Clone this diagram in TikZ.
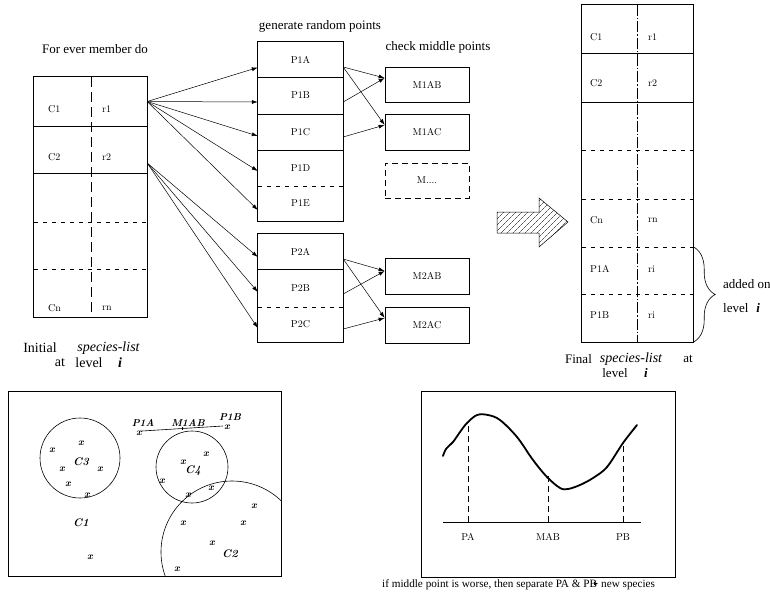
\documentclass[tikz,border=0pt]{standalone}
\usepackage{fontspec}
\newfontfamily\tms{Liberation Serif}
\usetikzlibrary{arrows.meta,patterns,patterns.meta,decorations.pathreplacing,calc}
\begin{document}
\begin{tikzpicture}[x=1pt,y=-1pt,
  lbl/.style={font=\fontsize{10}{12}\selectfont, inner sep=0pt},
  ttl/.style={font=\tms\fontsize{13}{15}\selectfont, inner sep=0pt},
  ttlb/.style={font=\tms\fontsize{14}{16}\selectfont, inner sep=0pt},
  ttlc/.style={font=\tms\fontsize{11.2}{13}\selectfont, inner sep=0pt},
  cell/.style={inner sep=0pt},
  arr/.style={-{Latex[length=6pt,width=4pt]}, line width=0.5pt},
  bx/.style={line width=0.7pt},
  dsh/.style={dash pattern=on 4pt off 5pt, line width=0.6pt},
  vdsh/.style={dash pattern=on 10pt off 5pt, line width=0.6pt},
  vdsh2/.style={dash pattern=on 11pt off 2pt on 1.5pt off 2pt, line width=0.6pt},
  xm/.style={font=\bfseries\itshape\fontsize{10}{11}\selectfont, inner sep=0pt},
  xl/.style={font=\bfseries\itshape\fontsize{11}{12}\selectfont, inner sep=0pt},
]
\useasboundingbox (0,0) rectangle (770,602);

% ---------- titles
\node[ttl] (t1) at (95,49) {For ever member do};
\node[ttl] (t2) at (320,26) {generate random points};
\node[ttl] (t3) at (438,47) {check middle points};

% ---------- left list
\node[cell, minimum width=113pt, minimum height=49pt] (l1) at (90.5,101.5) {};
\node[cell, minimum width=113pt, minimum height=47pt] (l2) at (90.5,149.5) {};
\node[cell, minimum width=113pt, minimum height=49pt] (l3) at (90.5,197.5) {};
\node[cell, minimum width=113pt, minimum height=47pt] (l4) at (90.5,245.5) {};
\node[cell, minimum width=113pt, minimum height=48pt] (l5) at (90.5,293) {};
\draw[bx] (l1.north west) rectangle (l5.south east);
\draw[bx] (l1.south west) -- (l1.south east);
\draw[bx] (l2.south west) -- (l2.south east);
\draw[dsh] (l3.south west) -- (l3.south east);
\draw[dsh] (l4.south west) -- (l4.south east);
\draw[vdsh] (91,77) -- (91,317);
\node[lbl, anchor=west] (lc1) at (48,109) {C1};
\node[lbl, anchor=west] (lr1) at (102,109) {r1};
\node[lbl, anchor=west] (lc2) at (48,157) {C2};
\node[lbl, anchor=west] (lr2) at (102,157) {r2};
\node[lbl, anchor=west] (lcn) at (48,308) {Cn};
\node[lbl, anchor=west] (lrn) at (102,308) {rn};
\node[ttlb] (i1) at (40,348) {Initial};
\node[ttlb] (i2) at (108.5,348) {\itshape species-list};
\node[ttlb] (i3) at (60,363) {at};
\node[ttlb] (i4) at (89,363) {level};
\node[ttlb] (i5) at (120,363) {\bfseries\itshape i};

% ---------- P1 boxes
\node[lbl, minimum width=85pt, minimum height=35pt] (p1a) at (300.5,59.5) {P1A};
\node[lbl, minimum width=85pt, minimum height=37pt] (p1b) at (300.5,95.5) {P1B};
\node[lbl, minimum width=85pt, minimum height=36pt] (p1c) at (300.5,132) {P1C};
\node[lbl, minimum width=85pt, minimum height=36pt] (p1d) at (300.5,168) {P1D};
\node[lbl, minimum width=85pt, minimum height=35pt] (p1e) at (300.5,203.5) {P1E};
\draw[bx] (p1a.north west) rectangle (p1e.south east);
\draw[bx] (p1a.south west) -- (p1a.south east);
\draw[bx] (p1b.south west) -- (p1b.south east);
\draw[bx] (p1c.south west) -- (p1c.south east);
\draw[dsh] (p1d.south west) -- (p1d.south east);

% ---------- P2 boxes
\node[lbl, minimum width=85pt, minimum height=35pt] (p2a) at (300.5,251.5) {P2A};
\node[lbl, minimum width=85pt, minimum height=38pt] (p2b) at (300.5,288) {P2B};
\node[lbl, minimum width=85pt, minimum height=35pt] (p2c) at (300.5,324.5) {P2C};
\draw[bx] (p2a.north west) rectangle (p2c.south east);
\draw[bx] (p2a.south west) -- (p2a.south east);
\draw[dsh] (p2b.south west) -- (p2b.south east);

% ---------- M boxes
\node[lbl, bx, draw, minimum width=84pt, minimum height=35pt] (m1ab) at (427,84.5) {M1AB};
\node[lbl, bx, draw, minimum width=84pt, minimum height=36pt] (m1ac) at (427,132) {M1AC};
\node[lbl, draw, dash pattern=on 6pt off 4pt, line width=0.7pt, minimum width=84pt, minimum height=35pt] (mdots) at (427,180.5) {M....};
\node[lbl, bx, draw, minimum width=84pt, minimum height=36pt] (m2ab) at (427,276) {M2AB};
\node[lbl, bx, draw, minimum width=84pt, minimum height=36pt] (m2ac) at (427,325) {M2AC};

% ---------- arrows list -> P
\draw[arr] (l1.east) -- ([yshift=-8pt]p1a.west);
\draw[arr] (l1.east) -- ([yshift=-6.5pt]p1b.west);
\draw[arr] (l1.east) -- ([yshift=-4pt]p1c.west);
\draw[arr] (l1.east) -- ([yshift=-3pt]p1d.west);
\draw[arr] (l1.east) -- ([yshift=-6.5pt]p1e.west);
\draw[arr] ([yshift=-13.5pt]l2.east) -- ([yshift=-5.5pt]p2a.west);
\draw[arr] ([yshift=-13.5pt]l2.east) -- ([yshift=-4pt]p2b.west);
\draw[arr] ([yshift=-13.5pt]l2.east) -- ([yshift=-3.5pt]p2c.west);

% ---------- arrows P -> M
\draw[arr] ([yshift=-7.5pt]p1a.east) -- ([yshift=6.5pt]m1ab.west);
\draw[arr] ([yshift=-7.5pt]p1a.east) -- ([yshift=7pt]m1ac.west);
\draw[arr] ([yshift=-6.5pt]p1b.east) -- ([yshift=6.5pt]m1ab.west);
\draw[arr] ([yshift=-5pt]p1c.east) -- ([yshift=7pt]m1ac.west);
\draw[arr] ([yshift=-7.5pt]p2a.east) -- ([yshift=5pt]m2ab.west);
\draw[arr] ([yshift=-7.5pt]p2a.east) -- ([yshift=7pt]m2ac.west);
\draw[arr] ([yshift=-6pt]p2b.east) -- ([yshift=5pt]m2ab.west);
\draw[arr] ([yshift=-4.5pt]p2c.east) -- ([yshift=7pt]m2ac.west);

% ---------- hatched arrow
\draw[line width=0.5pt, pattern={Lines[angle=45, distance=4pt, line width=0.4pt]}]
  (497,212) -- (539,212) -- (539,198) -- (568,222) -- (539,247) -- (539,233) -- (497,233) -- cycle;

% ---------- right list
\node[cell, minimum width=111pt, minimum height=48pt] (r1) at (637.5,29) {};
\node[cell, minimum width=111pt, minimum height=49pt] (r2) at (637.5,77.5) {};
\node[cell, minimum width=111pt, minimum height=48pt] (r3) at (637.5,126) {};
\node[cell, minimum width=111pt, minimum height=49pt] (r4) at (637.5,174.5) {};
\node[cell, minimum width=111pt, minimum height=48pt] (r5) at (637.5,223) {};
\node[cell, minimum width=111pt, minimum height=47pt] (r6) at (637.5,270.5) {};
\node[cell, minimum width=111pt, minimum height=48pt] (r7) at (637.5,318) {};
\draw[bx] (r1.north west) rectangle (r7.south east);
\draw[bx] (r1.south west) -- (r1.south east);
\draw[bx] (r2.south west) -- (r2.south east);
\draw[dsh] (r3.south west) -- (r3.south east);
\draw[dsh] (r4.south west) -- (r4.south east);
\draw[dsh] (r5.south west) -- (r5.south east);
\draw[dsh] (r6.south west) -- (r6.south east);
\draw[vdsh2] (637,5) -- (637,342);
\node[lbl, anchor=west] (rc1) at (590,37) {C1};
\node[lbl, anchor=west] (rr1) at (648,37) {r1};
\node[lbl, anchor=west] (rc2) at (590,83) {C2};
\node[lbl, anchor=west] (rr2) at (648,83) {r2};
\node[lbl, anchor=west] (rcn) at (590,220) {Cn};
\node[lbl, anchor=west] (rrn) at (648,220) {rn};
\node[lbl, anchor=west] (rp1) at (590,269) {P1A};
\node[lbl, anchor=west] (rri1) at (648,269) {ri};
\node[lbl, anchor=west] (rp2) at (590,315) {P1B};
\node[lbl, anchor=west] (rri2) at (648,315) {ri};
\draw[line width=0.6pt, decorate, decoration={brace, amplitude=22pt, aspect=0.5}]
  (r6.north east) -- (r7.south east);
\node[ttl, anchor=west] (ad1) at (723,284) {added on};
\node[ttl, anchor=west] (ad2) at (723,308) {level\hspace{8pt}{\bfseries\itshape i}};
\node[ttl] (f1) at (578.5,359) {Final};
\node[ttlb] (f2) at (631,359) {\itshape species-list};
\node[ttl] (f3) at (688,359) {at};
\node[ttl] (f4) at (615,373) {level};
\node[ttl] (f5) at (646,373) {\bfseries\itshape i};

% ---------- bottom-left panel
\draw[line width=0.9pt] (8,391) rectangle (281,576);
\draw[line width=0.6pt] (80,458) circle[radius=40pt];
\draw[line width=0.6pt] (192,467) circle[radius=36pt];
\begin{scope}
  \clip (8,391) rectangle (281,576);
  \draw[line width=0.6pt] (232,552) circle[radius=71pt];
\end{scope}
\draw[line width=0.6pt] (142,431) -- (223,426);
\draw[line width=0.6pt] (182,426.5) -- (182,429.5);
\node[xm] (lp1a) at (143,423) {P1A};
\node[xm] (lm1ab) at (188,423) {M1AB};
\node[xm] (lp1b) at (230,417) {P1B};
\node[xm] at (139,433) {x};
\node[xm] at (227,427) {x};
\node[xl] (c3) at (81,462) {C3};
\node[xl] (c4) at (193,471) {C4};
\node[xl] (c1) at (81,523) {C1};
\node[xl] (c2) at (230,554) {C2};
\foreach \p in {(81,443),(52,450),(62,469),(100,469),(68,484),(87,495),
                (90,557),(183,462),(206,454),(162,481),(211,488),(188,495),
                (254,506),(183,523),(243,523),(212,543),(177,569)}
  \node[xm] at \p {x};

% ---------- bottom-right panel
\draw[line width=0.9pt] (421,391) rectangle (675,577);
\draw[line width=0.8pt] (443,522) -- (641,522);
\draw[dash pattern=on 6pt off 4pt, line width=0.6pt] (468,522) -- (468,423);
\draw[dash pattern=on 6pt off 4pt, line width=0.6pt] (548,522) -- (548,476);
\draw[dash pattern=on 6pt off 4pt, line width=0.6pt] (623,522) -- (623,443);
\node[lbl] (pa) at (468,537) {PA};
\node[lbl] (mab) at (548,537) {MAB};
\node[lbl] (pb) at (623,537) {PB};
\draw[line width=1.8pt, line join=round, line cap=round]
  plot[smooth, tension=0.55] coordinates {(443,456) (446,449) (453,442) (460,432) (467,423) (477,415)
  (488,415) (500,420) (517,437) (533,460) (547,477) (560,488) (568,489) (580,485)
  (593,478) (607,467) (623,443) (637,425)};

% ---------- caption
\node[ttlc, anchor=west] (cp1) at (382,585) {if middle point is worse, then separate PA \& PB};
\node[ttlc, anchor=west] (cp2) at (601,585) {new species};
\draw[-{Latex[length=4pt,width=3.5pt]}, line width=0.5pt] ([xshift=-3pt,yshift=1.5pt]cp1.east) -- ([xshift=-3pt,yshift=1.5pt]cp2.west);
\end{tikzpicture}
\end{document}
